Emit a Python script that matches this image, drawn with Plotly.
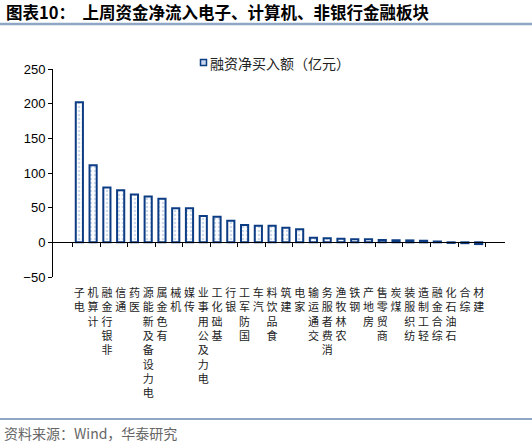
import plotly.graph_objects as go

# sector names and weekly net margin purchase (100m CNY)
sectors = [
    "电子", "计算机", "非银行金融", "通信", "医药", "电力设备及新能源", "有色金属",
    "机械", "传媒", "电力及公用事业", "基础化工", "银行", "国防军工", "汽车",
    "食品饮料", "建筑", "家电", "交通运输", "消费者服务", "农林牧渔", "钢铁",
    "房地产", "商贸零售", "煤炭", "纺织服装", "轻工制造", "综合金融", "石油石化",
    "综合", "建材",
]
net_buy = [
    202, 111, 79, 75, 69, 66, 63,
    49, 49, 38, 37, 31, 25, 24,
    24, 21, 19, 6.5, 6, 5, 4.5,
    4.3, 3.5, 3, 2.8, 2.3, 1.2, -0.8,
    -1.2, -2.5,
]
y_ticks = [-50, 0, 50, 100, 150, 200, 250]
series_name = "融资净买入额（亿元）"

# vertical labels, read bottom to top, characters upright
tick_text = ["<br>".join(reversed(list(s))) for s in sectors]

BLUE = "#0c3c84"
CJK = "Noto Sans CJK SC"

# plot area in pixels: x 53..505, y 69..277
L, R, T, B = 53, 505, 69, 277


def px_x(p):
    return (p - L) / (R - L)


def px_y(p):
    return (B - p) / (B - T)


fig = go.Figure()
fig.add_trace(go.Bar(
    x=sectors,
    y=net_buy,
    name=series_name,
    showlegend=False,
    marker=dict(
        color="white",
        line=dict(color=BLUE, width=2),
        pattern=dict(shape=".", fgcolor="#9db7dc", bgcolor="white", size=4, solidity=0.35),
    ),
))
# invisible helper trace that carries the bottom labels
fig.add_trace(go.Scatter(
    x=sectors, y=net_buy, xaxis="x2", mode="markers",
    marker=dict(opacity=0), showlegend=False, hoverinfo="skip",
))

fig.update_layout(
    width=532, height=442,
    margin=dict(l=L, r=532 - R, t=T, b=442 - B),
    plot_bgcolor="white", paper_bgcolor="white",
    font=dict(family="Liberation Sans, Arial", color="black", size=13),
    bargap=0.48,
    xaxis=dict(
        type="category", categoryorder="array", categoryarray=sectors,
        anchor="free", position=1 / 6,
        showline=True, linecolor="black", linewidth=1,
        ticks="outside", ticklen=4, tickcolor="black", tickson="boundaries",
        showticklabels=False, showgrid=False, zeroline=False,
    ),
    xaxis2=dict(
        type="category", categoryorder="array", categoryarray=sectors,
        overlaying="x", matches="x", side="bottom", anchor="y",
        showline=False, ticks="", showgrid=False, zeroline=False,
        tickmode="array", tickvals=sectors, ticktext=tick_text, tickangle=0,
        ticklabelstandoff=8,
        tickfont=dict(family=CJK, size=11, color="#222"),
    ),
    yaxis=dict(
        range=[-50, 250], tickvals=y_ticks,
        showline=True, linecolor="black", linewidth=1,
        ticks="outside", ticklen=4, tickcolor="black",
        showgrid=False, zeroline=False,
    ),
)

# legend drawn by hand so the swatch sits right next to the text
fig.add_shape(type="rect", xref="paper", yref="paper",
              x0=px_x(200.5), x1=px_x(206.5), y0=px_y(65.5), y1=px_y(59.5),
              line=dict(color=BLUE, width=1.5), fillcolor="#c9d8ee")
fig.add_annotation(
    text=series_name, xref="paper", yref="paper", x=px_x(208), y=px_y(62.5),
    xanchor="left", yanchor="middle", showarrow=False,
    font=dict(family=CJK, size=14, color="#222"),
)

# header and footer
fig.add_annotation(
    text="<b>图表10：  上周资金净流入电子、计算机、非银行金融板块</b>",
    xref="paper", yref="paper", x=px_x(4), y=px_y(12), xanchor="left", yanchor="middle",
    showarrow=False, font=dict(family=CJK, size=16.5, color="black"),
)
fig.add_annotation(
    text="资料来源：Wind，华泰研究",
    xref="paper", yref="paper", x=px_x(2), y=px_y(433), xanchor="left", yanchor="middle",
    showarrow=False, font=dict(family=CJK, size=14, color="#666"),
)
fig.add_shape(type="line", xref="paper", yref="paper", x0=px_x(0), x1=px_x(532),
              y0=px_y(24), y1=px_y(24), line=dict(color="#8fa6c4", width=2.5))
fig.add_shape(type="line", xref="paper", yref="paper", x0=px_x(0), x1=px_x(532),
              y0=px_y(419), y1=px_y(419), line=dict(color="#8fa6c4", width=2))

fig.write_html(
    "out.html",
    config={"displayModeBar": False},
    post_script="document.body.style.margin='0';",
)
